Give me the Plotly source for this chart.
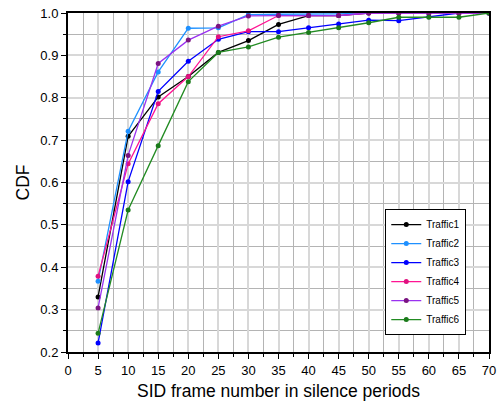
import plotly.graph_objects as go

x_vals = [5, 10, 15, 20, 25, 30, 35, 40, 45, 50, 55, 60, 65, 70]
series_names = ["Traffic1", "Traffic2", "Traffic3", "Traffic4", "Traffic5", "Traffic6"]
traffic1 = [0.330, 0.709, 0.802, 0.850, 0.907, 0.935, 0.973, 0.994, 0.994, 1.0, 1.0, 1.0, 1.0, 1.0]
traffic2 = [0.367, 0.721, 0.861, 0.964, 0.965, 0.996, 0.997, 0.997, 0.998, 1.0, 1.0, 1.0, 1.0, 1.0]
traffic3 = [0.221, 0.602, 0.815, 0.886, 0.938, 0.956, 0.956, 0.965, 0.974, 0.983, 0.982, 0.991, 1.0, 1.0]
traffic4 = [0.379, 0.644, 0.786, 0.850, 0.944, 0.958, 0.994, 0.994, 0.994, 1.0, 1.0, 1.0, 1.0, 1.0]
traffic5 = [0.304, 0.664, 0.881, 0.936, 0.969, 0.993, 0.994, 0.994, 0.994, 1.0, 1.0, 1.0, 1.0, 1.0]
traffic6 = [0.244, 0.535, 0.687, 0.838, 0.907, 0.920, 0.943, 0.954, 0.965, 0.977, 0.990, 0.990, 0.990, 1.0]
series_values = [traffic1, traffic2, traffic3, traffic4, traffic5, traffic6]
line_colors = ["#000000", "#1E90FF", "#0000FF", "#FF1493", "#9A32F0", "#228B22"]
marker_colors = ["#000000", "#1E90FF", "#0000FF", "#E0117F", "#7A1480", "#1A7A1A"]

x_ticks = list(range(0, 71, 5))
y_ticks = [0.2, 0.3, 0.4, 0.5, 0.6, 0.7, 0.8, 0.9, 1.0]

fig = go.Figure()
for name, vals, lc, mc in zip(series_names, series_values, line_colors, marker_colors):
    fig.add_trace(go.Scatter(
        x=x_vals, y=vals, name=name, mode="lines+markers",
        line=dict(color=lc, width=1.3),
        marker=dict(color=mc, size=5, symbol="circle"),
    ))

font_family = "Liberation Sans, Arial, sans-serif"
fig.update_layout(
    width=499, height=407,
    margin=dict(l=68, r=10, t=13, b=55, autoexpand=False),
    paper_bgcolor="white", plot_bgcolor="white",
    font=dict(family=font_family, size=13, color="black"),
    showlegend=True,
    legend=dict(
        x=0.946, y=0.05, xanchor="right", yanchor="bottom",
        bgcolor="white", bordercolor="black", borderwidth=1,
        font=dict(size=10), tracegroupgap=0, itemwidth=30,
    ),
)
fig.update_xaxes(
    range=[0, 70], tickvals=x_ticks, ticktext=[str(t) for t in x_ticks],
    automargin=False,
    showline=True, linecolor="black", linewidth=2, mirror=True,
    ticks="outside", ticklen=5, tickwidth=1, tickcolor="black",
    showgrid=True, gridcolor="#D8D8D8", gridwidth=2,
    minor=dict(dtick=2.5, showgrid=True, gridcolor="#B4B4B4", gridwidth=1,
               ticks="outside", ticklen=3, tickcolor="black"),
    zeroline=False,
    title=dict(text="SID frame number in silence periods", font=dict(size=17.5), standoff=8),
    tickfont=dict(size=13),
)
fig.update_yaxes(
    range=[0.2, 1.0], tickvals=y_ticks, ticktext=[f"{t:.1f}" for t in y_ticks],
    automargin=False,
    showline=True, linecolor="black", linewidth=2, mirror=True,
    ticks="outside", ticklen=5, tickwidth=1, tickcolor="black",
    showgrid=True, gridcolor="#D8D8D8", gridwidth=2,
    minor=dict(dtick=0.05, showgrid=True, gridcolor="#B4B4B4", gridwidth=1,
               ticks="outside", ticklen=3, tickcolor="black"),
    zeroline=False,
    title=dict(text="CDF", font=dict(size=17.5), standoff=6),
    tickfont=dict(size=13),
)

fig.write_html("out.html")
